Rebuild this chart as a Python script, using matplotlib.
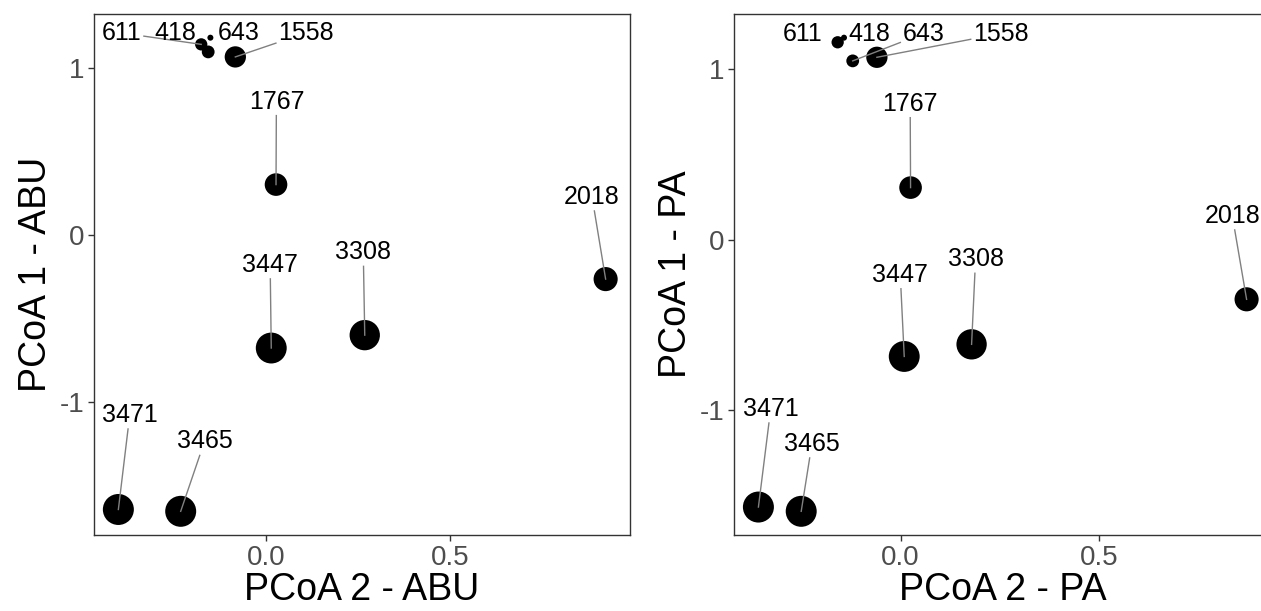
import numpy as np
import matplotlib
matplotlib.use("Agg")
import matplotlib.pyplot as plt

plt.rcParams['font.family'] = ['Liberation Sans', 'DejaVu Sans']
plt.rcParams['axes.unicode_minus'] = False

DPI = 100

# sample labels (also used for point size)
sample_ids = [611, 418, 643, 1558, 1767, 2018, 3308, 3447, 3465, 3471]

# PCoA scores - abundance
abu_pcoa2 = [-0.178, -0.153, -0.159, -0.085, 0.026, 0.925, 0.268, 0.013, -0.234, -0.404]
abu_pcoa1 = [1.140, 1.180, 1.095, 1.065, 0.302, -0.263, -0.598, -0.675, -1.651, -1.640]
# repelled label positions
abu_label_x = [-0.394, -0.250, -0.077, 0.107, 0.027, 0.888, 0.264, 0.010, -0.169, -0.373]
abu_label_y = [1.208, 1.208, 1.208, 1.208, 0.798, 0.228, -0.103, -0.178, -1.233, -1.075]
abu_segment = [True, False, False, True, True, True, True, True, True, True]

# PCoA scores - presence/absence
pa_pcoa2 = [-0.159, -0.143, -0.121, -0.060, 0.025, 0.873, 0.179, 0.009, -0.251, -0.359]
pa_pcoa1 = [1.158, 1.185, 1.049, 1.070, 0.306, -0.349, -0.613, -0.684, -1.592, -1.567]
pa_label_x = [-0.248, -0.080, 0.057, 0.252, 0.024, 0.837, 0.189, -0.001, -0.224, -0.328]
pa_label_y = [1.209, 1.209, 1.209, 1.209, 0.798, 0.140, -0.114, -0.205, -1.197, -0.992]
pa_segment = [False, False, True, True, True, True, True, True, True, True]

x_ticks = [0.0, 0.5]
x_ticklabels = ['0.0', '0.5']
y_ticks = [-1, 0, 1]
y_ticklabels = ['-1', '0', '1']


def point_diameters(values, dmin=6.0, dmax=31.0):
    # ggplot-like area scale: diameter grows with sqrt of rescaled value
    v = np.asarray(values, dtype=float)
    r = (v - v.min()) / (v.max() - v.min())
    return dmin + (dmax - dmin) * np.sqrt(r)


def draw_panel(fig, ax, x, y, lab_x, lab_y, seg, xlabel, ylabel):
    d = point_diameters(sample_ids) * 72 / DPI
    ax.scatter(x, y, s=d ** 2, c='black', linewidths=0, zorder=2)
    ax.margins(0.05)
    ax.set_xlim(ax.get_xlim())
    ax.set_ylim(ax.get_ylim())

    texts = []
    for sid, lx, ly in zip(sample_ids, lab_x, lab_y):
        t = ax.text(lx, ly, str(sid), ha='center', va='center', fontsize=18,
                    color='black', zorder=4)
        texts.append(t)

    fig.canvas.draw()
    renderer = fig.canvas.get_renderer()
    for t, px, py, s in zip(texts, x, y, seg):
        if not s:
            continue
        bb = t.get_window_extent(renderer)
        pad = 2
        cx, cy = (bb.x0 + bb.x1) / 2, (bb.y0 + bb.y1) / 2
        hw, hh = bb.width / 2 + pad, bb.height / 2 + pad
        qx, qy = ax.transData.transform((px, py))
        dx, dy = qx - cx, qy - cy
        tx = hw / abs(dx) if dx != 0 else np.inf
        ty = hh / abs(dy) if dy != 0 else np.inf
        k = min(tx, ty)
        if k >= 1:
            continue
        sx, sy = cx + k * dx, cy + k * dy
        inv = ax.transData.inverted()
        (ax0, ay0), (ax1, ay1) = inv.transform([(sx, sy), (qx, qy)])
        ax.plot([ax0, ax1], [ay0, ay1], color='#808080', lw=1.0, zorder=3)

    ax.set_xticks(x_ticks)
    ax.set_xticklabels(x_ticklabels)
    ax.set_yticks(y_ticks)
    ax.set_yticklabels(y_ticklabels)
    ax.tick_params(axis='both', labelsize=20, labelcolor='#4D4D4D', color='#333333',
                   length=4, width=1.0, pad=3)
    for sp in ax.spines.values():
        sp.set_color('#333333')
        sp.set_linewidth(1.0)
    ax.set_xlabel(xlabel, fontsize=27, labelpad=1)
    ax.set_ylabel(ylabel, fontsize=27, labelpad=4)


W, H = 1261, 611
fig = plt.figure(figsize=(W / DPI, H / DPI), dpi=DPI)
ax1 = fig.add_axes([94 / W, (H - 535) / H, 536 / W, 521 / H])
ax2 = fig.add_axes([734 / W, (H - 535) / H, 537 / W, 521 / H])

draw_panel(fig, ax1, abu_pcoa2, abu_pcoa1, abu_label_x, abu_label_y, abu_segment,
           'PCoA 2 - ABU', 'PCoA 1 - ABU')
draw_panel(fig, ax2, pa_pcoa2, pa_pcoa1, pa_label_x, pa_label_y, pa_segment,
           'PCoA 2 - PA', 'PCoA 1 - PA')

fig.savefig('out.png', dpi=DPI)
